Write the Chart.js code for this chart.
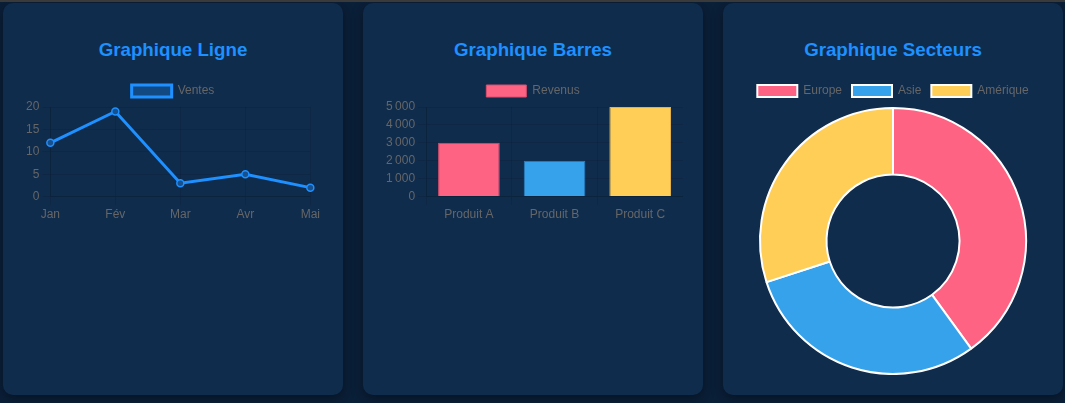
<!DOCTYPE html>
<html>
<head>
<meta charset="utf-8">
<script src="https://cdn.jsdelivr.net/npm/chart.js@4.4.1/dist/chart.umd.min.js"></script>
<style>
  html, body { margin: 0; padding: 0; }
  body {
    background: #0a1f38;
    border-top: 2px solid #3a3a3a;
    width: 1065px; height: 401px; overflow: hidden;
    font-family: "Liberation Sans", Arial, sans-serif;
  }
  .wrap { display: flex; gap: 20px; padding: 1px 2px 0 3px; align-items: stretch; }
  .card {
    width: 300px; padding: 20px; background: #0f2c4d; border-radius: 10px;
    box-shadow: 0 4px 12px rgba(0,0,0,0.35);
  }
  h2 {
    margin: 16px 0 14px; font-size: 18.72px; line-height: 22px; font-weight: bold;
    color: #1e90ff; text-align: center;
  }
  .cw { position: relative; width: 300px; }
</style>
</head>
<body>
<div class="wrap">
  <div class="card"><h2>Graphique Ligne</h2><div class="cw"><canvas id="c1"></canvas></div></div>
  <div class="card"><h2>Graphique Barres</h2><div class="cw"><canvas id="c2"></canvas></div></div>
  <div class="card"><h2>Graphique Secteurs</h2><div class="cw"><canvas id="c3"></canvas></div></div>
</div>
<script>
const lineLabels = ['Jan', 'Fév', 'Mar', 'Avr', 'Mai'];
const lineValues = [12, 19, 3, 5, 2];
const barLabels = ['Produit A', 'Produit B', 'Produit C'];
const barValues = [3000, 2000, 5000];
const pieLabels = ['Europe', 'Asie', 'Amérique'];
const pieValues = [40, 30, 30];

const colors = ['#ff6384', '#36a2eb', '#ffce56'];

Chart.defaults.animation = false;

new Chart(document.getElementById('c1'), {
  type: 'line',
  data: {
    labels: lineLabels,
    datasets: [{
      label: 'Ventes',
      data: lineValues,
      borderColor: '#1e90ff',
      backgroundColor: 'rgba(30,144,255,0.3)',
      pointBackgroundColor: '#17508c',
      pointBorderColor: '#1e90ff',
      pointRadius: 3.5,
      pointBorderWidth: 1.5,
      borderWidth: 3,
      tension: 0
    }]
  },
  options: {
    responsive: true, maintainAspectRatio: true, aspectRatio: 2,
    scales: { y: { beginAtZero: true } }
  }
});

new Chart(document.getElementById('c2'), {
  type: 'bar',
  data: {
    labels: barLabels,
    datasets: [{
      label: 'Revenus',
      data: barValues,
      backgroundColor: colors,
      borderColor: ['#d94f6e', '#2b7fc0', '#e0b04a'],
      borderWidth: 1
    }]
  },
  options: {
    locale: 'fr-FR',
    responsive: true, maintainAspectRatio: true, aspectRatio: 2,
    scales: { y: { beginAtZero: true } }
  }
});

new Chart(document.getElementById('c3'), {
  type: 'doughnut',
  data: {
    labels: pieLabels,
    datasets: [{
      data: pieValues,
      backgroundColor: colors,
      borderColor: '#fff',
      borderWidth: 2
    }]
  },
  options: {
    responsive: true, maintainAspectRatio: true, aspectRatio: 1
  }
});
</script>
</body>
</html>
